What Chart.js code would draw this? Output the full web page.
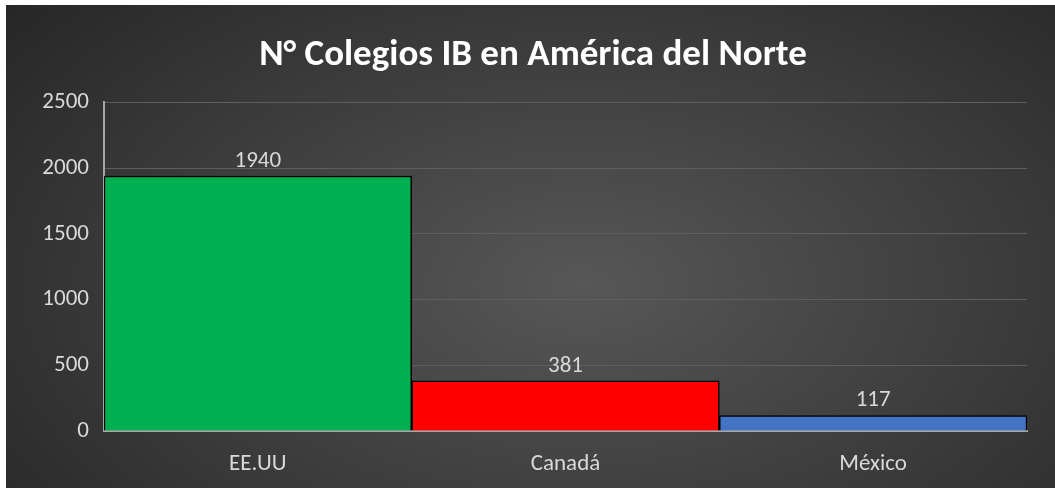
<!DOCTYPE html>
<html lang="es">
  <head>
    <meta charset="UTF-8" />
    <title>N° Colegios IB en América del Norte</title>
    <script src="https://cdn.jsdelivr.net/npm/chart.js@4"></script>
    <style>
      body {
        margin: 0;
        background: #ffffff;
        width: 1055px;
        height: 488px;
        overflow: hidden;
      }
      .chart-box {
        position: absolute;
        left: 6px;
        top: 5px;
        width: 1049px;
        height: 483px;
        background: radial-gradient(ellipse 75% 95% at 55% 58%, #575757 0%, #3b3b3b 55%, #242424 100%);
      }
    </style>
  </head>
  <body>
    <div class="chart-box">
      <canvas id="chart"></canvas>
    </div>

    <script>
      const categories = ["EE.UU", "Canadá", "México"];
      const colegios = [1940, 381, 117];
      const barColors = ["#00b050", "#ff0000", "#4472c4"];

      const labelColor = "#d9d9d9";
      const fontFamily = "Calibri, Carlito, 'Open Sans', 'Liberation Sans', sans-serif";

      // draws value above each bar
      const valueLabels = {
        id: "valueLabels",
        afterDatasetsDraw(chart) {
          const ctx = chart.ctx;
          const meta = chart.getDatasetMeta(0);
          ctx.save();
          ctx.fillStyle = labelColor;
          ctx.font = "23px " + fontFamily;
          ctx.textAlign = "center";
          ctx.textBaseline = "middle";
          meta.data.forEach((bar, i) => {
            ctx.fillText(String(colegios[i]), bar.x, bar.y - 15);
          });
          ctx.restore();
        },
      };

      new Chart(document.getElementById("chart"), {
        type: "bar",
        data: {
          labels: categories,
          datasets: [
            {
              label: "N° Colegios IB",
              data: colegios,
              backgroundColor: barColors,
              borderColor: "#000000",
              borderWidth: 1.5,
              borderSkipped: "bottom",
              barPercentage: 1,
              categoryPercentage: 1,
            },
          ],
        },
        options: {
          responsive: true,
          maintainAspectRatio: false,
          animation: false,
          layout: {
            padding: { left: 33, right: 28, top: 0, bottom: 0 },
          },
          plugins: {
            legend: { display: false },
            tooltip: { enabled: false },
            title: {
              display: true,
              text: "N° Colegios IB en América del Norte",
              color: "#ffffff",
              font: { family: fontFamily, size: 37, weight: "bold" },
              padding: { top: 29, bottom: 24 },
            },
          },
          scales: {
            x: {
              grid: { display: false, drawTicks: false },
              border: { display: true, color: "#a6a6a6", width: 2 },
              ticks: {
                color: labelColor,
                font: { family: fontFamily, size: 23 },
                padding: 19,
              },
              afterFit(scale) {
                scale.height = 57;
              },
            },
            y: {
              min: 0,
              max: 2500,
              ticks: {
                stepSize: 500,
                color: labelColor,
                font: { family: fontFamily, size: 23 },
                padding: 15,
                callback: (v) => String(v),
              },
              grid: { color: "#5e5e5e", lineWidth: 1, drawTicks: false },
              border: { display: true, color: "#a6a6a6", width: 2 },
              afterFit(scale) {
                scale.width = 65;
              },
            },
          },
        },
        plugins: [valueLabels],
      });
    </script>
  </body>
</html>
